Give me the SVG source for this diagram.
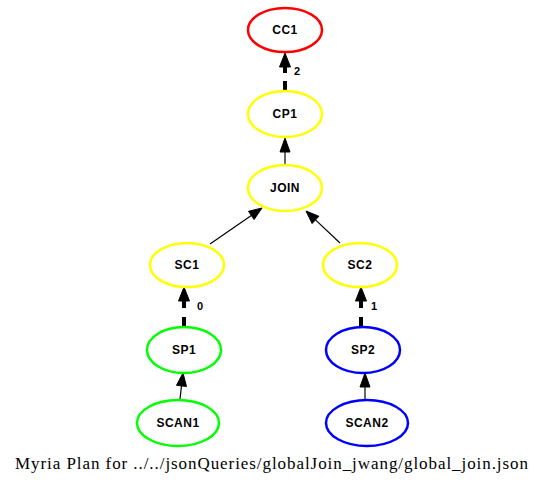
<svg xmlns="http://www.w3.org/2000/svg" width="545" height="484" viewBox="0 0 545 484">
<style>
.n{fill:none;stroke-width:2.5}
.t{font-family:"Liberation Sans",Arial,sans-serif;font-size:12px;font-weight:bold;text-anchor:middle;fill:#000;letter-spacing:0.5px}
.l{font-family:"Liberation Sans",Arial,sans-serif;font-size:11px;font-weight:bold;fill:#000}
.e{stroke:#000;fill:none;stroke-width:1.2}
.d{stroke:#000;fill:none;stroke-width:4}
.h{fill:#000;stroke:#000}
</style>
<rect width="545" height="484" fill="#fff"/>
<g id="connectors">
<path class="d" d="M285,90 L285,81 M285,73 L285,66"/><polygon class="h" points="279.5,67 285,53 290.5,67"/><text class="l" x="294" y="75">2</text>
<path class="e" d="M285,165 L285,151"/><polygon class="h" points="280,152 285,138 290,152"/>
<path class="e" d="M210,244 L251.3,215.4"/><polygon class="h" points="254.1,219.5 262,208 248.5,211.3"/>
<path class="e" d="M340,243 L315.5,219.9"/><polygon class="h" points="318.9,216.3 306,211 312.1,223.5"/>
<path class="d" d="M184,327 L184,317 M184,308 L184,300"/><polygon class="h" points="178.5,301 184,287 189.5,301"/><text class="l" x="197" y="310">0</text>
<path class="d" d="M361,327 L361,317 M361,308 L361,300"/><polygon class="h" points="355.5,301 361,287 366.5,301"/><text class="l" x="371" y="310">1</text>
<path class="e" d="M180,399 L181.5,385.9"/><polygon class="h" points="186.5,386.5 183,373 176.5,385.3"/>
<path class="e" d="M365,399 L365,386"/><polygon class="h" points="360,387 365,373 370,387"/>
</g>
<g id="CC1"><ellipse class="n" cx="285" cy="30" rx="37" ry="22" stroke="#f00"/><text class="t" x="285" y="34">CC1</text></g>
<g id="CP1"><ellipse class="n" cx="285" cy="114" rx="37" ry="23" stroke="#ff0"/><text class="t" x="285" y="118">CP1</text></g>
<g id="JOIN"><ellipse class="n" cx="285" cy="188" rx="37" ry="23" stroke="#ff0"/><text class="t" x="285" y="192">JOIN</text></g>
<g id="SC1"><ellipse class="n" cx="187" cy="265" rx="37" ry="22" stroke="#ff0"/><text class="t" x="187" y="269">SC1</text></g>
<g id="SC2"><ellipse class="n" cx="360" cy="265" rx="37" ry="22" stroke="#ff0"/><text class="t" x="360" y="269">SC2</text></g>
<g id="SP1"><ellipse class="n" cx="184" cy="350" rx="37" ry="23" stroke="#0f0"/><text class="t" x="184" y="354">SP1</text></g>
<g id="SP2"><ellipse class="n" cx="363" cy="350" rx="37" ry="23" stroke="#00f"/><text class="t" x="363" y="354">SP2</text></g>
<g id="SCAN1"><ellipse class="n" cx="178" cy="423" rx="41" ry="23" stroke="#0f0"/><text class="t" x="178" y="427">SCAN1</text></g>
<g id="SCAN2"><ellipse class="n" cx="367" cy="423" rx="41" ry="23" stroke="#00f"/><text class="t" x="367" y="427">SCAN2</text></g>
<text x="15" y="469" font-family="'Liberation Serif','Times New Roman',serif" font-size="17" textLength="513" lengthAdjust="spacing" fill="#000">Myria Plan for ../../jsonQueries/globalJoin_jwang/global_join.json</text>
</svg>
